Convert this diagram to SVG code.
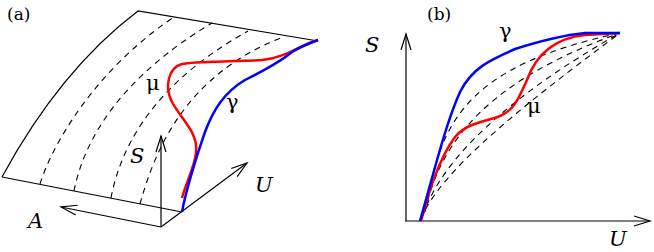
<svg xmlns="http://www.w3.org/2000/svg" width="654" height="252" viewBox="0 0 654 252">
<defs>
<marker id="arr" markerUnits="userSpaceOnUse" markerWidth="24" markerHeight="16" refX="0" refY="0" viewBox="-18 -8 20 16" orient="auto" overflow="visible">
<path d="M-16,-5 L0,0 L-16,5" fill="none" stroke="#000" stroke-width="1.2"/>
</marker>
</defs>
<style>
.ln{fill:none;stroke:#000;stroke-width:1.2}
.ax{fill:none;stroke:#000;stroke-width:1.2;marker-end:url(#arr)}
.dash{fill:none;stroke:#000;stroke-width:1.1;stroke-dasharray:6 5}
.red{fill:none;stroke:#ff0000;stroke-width:2.5}
.blue{fill:none;stroke:#0000ff;stroke-width:2.5}
text{font-family:'DejaVu Serif','Liberation Serif',serif;fill:#000}
.t{font-size:17px}
.it{font-size:21px;font-style:italic}
.gr{font-size:21px}
</style>
<g id="panel-a">
<text class="t" x="7" y="20">(a)</text>
<g id="surface">
<path class="ln" d="M2,177 Q60,70 138,11 L318,41"/>
<path class="ln" d="M2,177 L182,212"/>
<path class="dash" d="M40,184 C52,145 95,70 174,17"/>
<path class="dash" d="M74,191 C85,135 125,75 212,23"/>
<path class="dash" d="M111,198 C122,140 160,80 248,31"/>
<path class="dash" d="M140,204 C155,150 185,75 283,37"/>
</g>
<g id="axes-a">
<path class="ax" d="M161,227 L161,136"/>
<path class="ax" d="M161,227 L61,207"/>
<path class="ax" d="M161,227 L247,163"/>
<text class="it" x="130" y="163">S</text>
<text class="it" x="255" y="192">U</text>
<text class="it" x="28" y="228">A</text>
</g>
<g id="mu-a">
<path class="red" d="M182,198 C186,182 198,160 196,145 C194,128 178,115 171,100 C165,86 168,68 182,64 C195,61 230,62 262,60 C285,58 300,45 318,40"/>
<text class="gr" x="146" y="90">μ</text>
</g>
<g id="gamma-a">
<path class="blue" d="M182,212 C185,195 195,160 205,132 C214,108 225,92 245,80 C265,70 280,62 292,52 C300,47 310,43 318,40"/>
<text class="gr" x="226" y="109">γ</text>
</g>
</g>
<g id="panel-b">
<text class="t" x="427" y="20">(b)</text>
<g id="axes-b">
<path class="ax" d="M406,221 L406,34"/>
<path class="ax" d="M405,221 L650,221"/>
<text class="it" x="365" y="52">S</text>
<text class="it" x="609" y="246">U</text>
</g>
<g id="dashed-b">
<path class="dash" d="M427,205 C440,120 470,65 620,33"/>
<path class="dash" d="M425,212 C440,140 490,80 620,33"/>
<path class="dash" d="M423,216 C440,160 510,95 620,33"/>
<path class="dash" d="M421,219 C440,170 530,100 620,33"/>
</g>
<g id="mu-b">
<path class="red" d="M421,221 C428,195 438,160 455,137 C468,122 485,122 500,116 C515,110 520,95 527,80 C536,55 555,38 585,35 L620,33"/>
<text class="gr" x="527" y="113">μ</text>
</g>
<g id="gamma-b">
<path class="blue" d="M420,221 C432,180 445,125 460,92 C472,68 490,60 515,49 C540,41 565,35 585,33 L620,33"/>
<text class="gr" x="499" y="38">γ</text>
</g>
</g>
</svg>
